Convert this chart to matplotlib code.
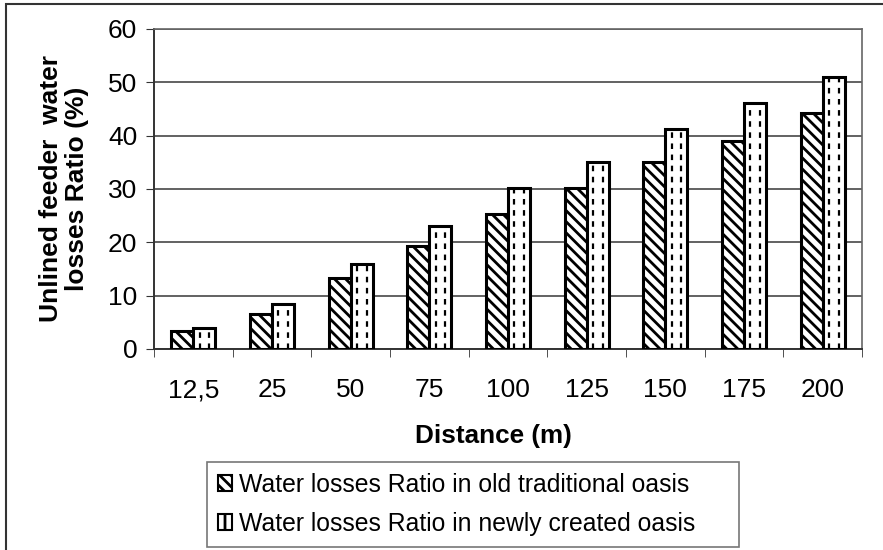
import matplotlib.pyplot as plt
import numpy as np
from matplotlib.patches import Patch, Rectangle

plt.rcParams['font.family'] = ['Liberation Sans', 'DejaVu Sans']
plt.rcParams['hatch.linewidth'] = 2.0

distance = ['12,5', '25', '50', '75', '100', '125', '150', '175', '200']
old_oasis = [3.4, 6.5, 13.3, 19.3, 25.3, 30.2, 35.1, 39.0, 44.3]
new_oasis = [3.9, 8.4, 15.9, 23.0, 30.2, 35.1, 41.3, 46.1, 51.0]

fig = plt.figure(figsize=(8.83, 5.5), dpi=100)
ax = fig.add_axes([154/883, 1-349/550, 708/883, 320/550])

x = np.arange(len(distance))
w = 0.28
ax.bar(x - w/2, old_oasis, w, color='white', edgecolor='black', hatch='\\\\\\',
       linewidth=2.2, zorder=3)
ax.bar(x + w/2, new_oasis, w, color='white', edgecolor='black',
       linewidth=2.2, zorder=3)
# dashed vertical lines inside the new bars
for xi, v in zip(x, new_oasis):
    for f in (0.28, 0.72):
        ax.vlines(xi + f*w, 0, v, colors='black', linestyles=(0, (2.5, 2.5)),
                  linewidth=1.6, zorder=4)

ax.set_xlim(-0.5, len(distance) - 0.5)
ax.set_ylim(0, 60)
ax.set_yticks(range(0, 61, 10))
ax.set_xticks(x)
ax.set_xticklabels(distance)
ax.set_xticks(np.arange(len(distance) + 1) - 0.5, minor=True)
ax.tick_params(axis='x', which='major', length=0, pad=21, labelsize=19)
ax.tick_params(axis='x', which='minor', length=6, direction='out', color='#333333')
ax.tick_params(axis='y', length=6, direction='out', labelsize=19, pad=6, color='#333333')
ax.yaxis.grid(True, color='#555555', linewidth=1.3, zorder=0)
ax.set_axisbelow(True)
for s in ['top', 'right']:
    ax.spines[s].set_color('#666666')
    ax.spines[s].set_linewidth(1.2)
for s in ['left', 'bottom']:
    ax.spines[s].set_color('#333333')
    ax.spines[s].set_linewidth(1.4)

ax.set_xlabel('Distance (m)', fontsize=18.8, fontweight='bold')
ax.xaxis.set_label_coords((493 - 154) / 708, (349 - 424) / 320)
ax.set_ylabel('Unlined feeder  water\nlosses Ratio (%)', fontsize=19,
              fontweight='bold', labelpad=14, linespacing=1.1)

handles = [Patch(facecolor='white', edgecolor='black', hatch='\\\\\\', linewidth=1.5),
           Patch(facecolor='white', edgecolor='black', hatch='|', linewidth=1.5)]
leg = fig.legend(handles, ['Water losses Ratio in old traditional oasis',
                           'Water losses Ratio in newly created oasis'],
                 loc='lower left', bbox_to_anchor=(207/883, 3/550, 532/883, 89/550),
                 mode='expand', fontsize=17.8,
                 frameon=True, fancybox=False, edgecolor='#555555',
                 handlelength=0.55, handleheight=0.6, handletextpad=0.28,
                 borderpad=0.45, labelspacing=0.6, borderaxespad=0)
leg.get_frame().set_linewidth(1.2)

fig.patches.append(Rectangle((6/883, -0.1), 1.2, 1 - 4/550 + 0.1,
                             transform=fig.transFigure, fill=False,
                             edgecolor='#333333', linewidth=1.5))

fig.savefig('out.png', dpi=100)
